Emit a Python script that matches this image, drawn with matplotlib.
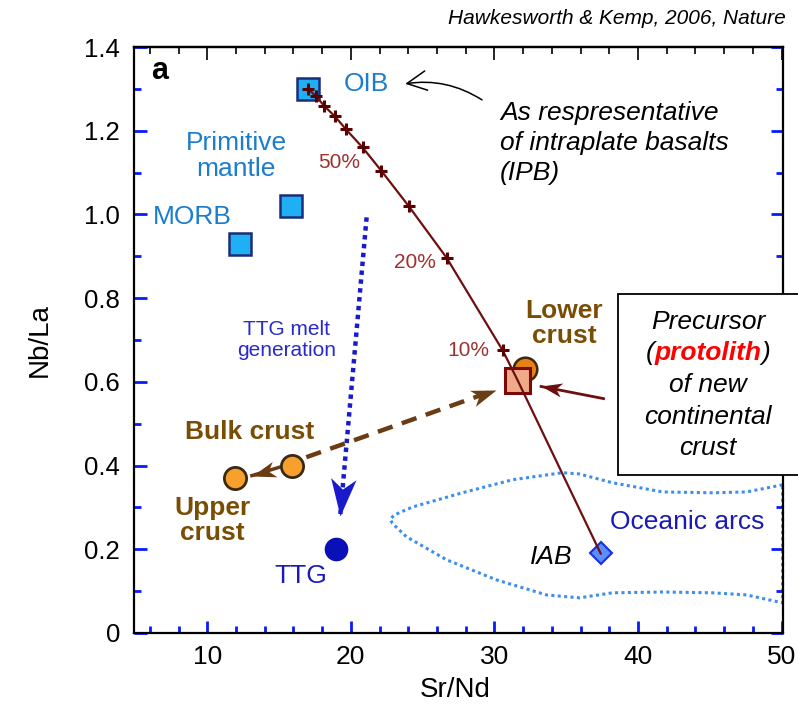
import numpy as np
import matplotlib
matplotlib.use('Agg')
import matplotlib.pyplot as plt
from matplotlib.markers import MarkerStyle
from matplotlib.path import Path
from matplotlib.transforms import Affine2D
from matplotlib.patches import Rectangle
from matplotlib.ticker import MultipleLocator

plt.rcParams['font.family'] = ['Liberation Sans', 'DejaVu Sans']

# mantle end-members (squares)
mantle_names = ['OIB', 'Primitive\nmantle', 'MORB']
mantle_x = [17.0, 15.8, 12.3]
mantle_y = [1.30, 1.02, 0.93]

# crust reservoirs (circles): bulk, upper, lower
crust_names = ['Bulk crust', 'Upper\ncrust', 'Lower\ncrust']
crust_x = [15.9, 11.9, 32.1]
crust_y = [0.40, 0.37, 0.63]

# protolith, TTG, IAB
protolith_x, protolith_y = 31.6, 0.605
ttg_x, ttg_y = 19.0, 0.20
iab_x, iab_y = 37.4, 0.19

# OIB - IAB mixing line, first 10 points carry tick marks
mix_x = [17.0, 17.57, 18.15, 18.90, 19.67, 20.82, 22.13, 24.03, 26.68, 30.58, 31.6, 34.7, 37.4]
mix_y = [1.30, 1.283, 1.259, 1.234, 1.203, 1.160, 1.104, 1.020, 0.896, 0.675, 0.605, 0.383, 0.19]
pct_labels = ['50%', '20%', '10%']
pct_x = [19.2, 24.5, 28.2]
pct_y = [1.124, 0.885, 0.675]

# oceanic arcs field outline
field_x = [50.07, 47.56, 45.19, 41.71, 38.22, 35.92, 34.74, 31.25, 27.77, 24.29, 23.03, 22.75,
           22.89, 23.87, 26.66, 30.14, 33.62, 35.92, 38.22, 41.71, 45.19, 47.56, 50.07, 50.07]
field_y = [0.354, 0.337, 0.335, 0.337, 0.359, 0.380, 0.383, 0.366, 0.335, 0.301, 0.282, 0.272,
           0.262, 0.230, 0.175, 0.127, 0.091, 0.084, 0.096, 0.098, 0.096, 0.091, 0.072, 0.354]

x_ticks = [10, 20, 30, 40, 50]
y_ticks = [0, 0.2, 0.4, 0.6, 0.8, 1.0, 1.2, 1.4]
y_labels = ['0', '0.2', '0.4', '0.6', '0.8', '1.0', '1.2', '1.4']

sq_face, sq_edge = '#1fb0f4', '#1a2d7a'
circ_face, circ_edge = '#f7a02e', '#3b2a12'
lbl_blue = '#1b7dcc'
brown = '#7a4d05'
arrow_brown = '#6b3c14'
maroon = '#6e0f0f'
dblue = '#1a1ab8'
tick_blue = '#0a1aff'

HEAD = Path([(0, 0), (-1, 0.34), (-0.72, 0), (-1, -0.34), (0, 0)],
            [Path.MOVETO, Path.LINETO, Path.LINETO, Path.LINETO, Path.CLOSEPOLY])


def arrow(ax, tail, tip, color, size, **kw):
    # line + concave arrow head rotated along the line
    ax.plot([tail[0], tip[0]], [tail[1], tip[1]], color=color, zorder=4, **kw)
    p0 = ax.transData.transform(tail)
    p1 = ax.transData.transform(tip)
    ang = np.degrees(np.arctan2(p1[1] - p0[1], p1[0] - p0[0]))
    m = MarkerStyle(HEAD, transform=Affine2D().rotate_deg(ang))
    ax.plot([tip[0]], [tip[1]], marker=m, ms=size, color=color, mew=0, zorder=4.5)


fig = plt.figure(figsize=(7.98, 7.08), dpi=100)
ax = fig.add_axes([134 / 798, 75 / 708, 649 / 798, 586 / 708])
ax.set_xlim(4.9, 50.1)
ax.set_ylim(0, 1.4)

# ticks
ax.set_xticks(x_ticks)
ax.set_xticklabels([str(v) for v in x_ticks], fontsize=19)
ax.xaxis.set_minor_locator(MultipleLocator(2))
ax.set_yticks(y_ticks)
ax.set_yticklabels(y_labels, fontsize=18.5)
ax.yaxis.set_minor_locator(MultipleLocator(0.1))
ax.tick_params(which='both', direction='in', color=tick_blue, width=2, top=False, right=True)
ax.tick_params(which='major', length=9)
ax.tick_params(which='minor', length=5)
ax.tick_params(axis='x', pad=9)
ax.tick_params(axis='y', pad=10)
for s in ax.spines.values():
    s.set_linewidth(1.6)
sec = ax.secondary_xaxis('top')
sec.set_xticks(x_ticks)
sec.xaxis.set_minor_locator(MultipleLocator(2))
sec.tick_params(which='both', direction='in', color='k', width=1.2, labeltop=False)
sec.tick_params(which='major', length=9)
sec.tick_params(which='minor', length=5)
sec.spines['top'].set_linewidth(1.6)

fig.text(455 / 798, 1 - 690 / 708, 'Sr/Nd', ha='center', va='center', fontsize=20)
fig.text(40 / 798, 1 - 340 / 708, 'Nb/La', ha='center', va='center', rotation=90, fontsize=20)

# oceanic arcs field
ax.plot(field_x, field_y, ls=(0, (1, 1.1)), color='#3d8ef0', lw=2.2, clip_on=False, zorder=1)

# TTG melt generation arrow
arrow(ax, (21.1, 0.993), (19.26, 0.28), '#1a1acc', 54, ls=(0, (1, 1)), lw=3.2)
# bulk crust from protolith
arrow(ax, (16.9, 0.42), (30.12, 0.581), arrow_brown, 36, ls=(0, (3.5, 2.2)), lw=3.2)
# bulk -> upper
arrow(ax, (15.6, 0.402), (13.11, 0.376), arrow_brown, 34, lw=2.5)
# box -> protolith
arrow(ax, (37.6, 0.560), (33.25, 0.589), maroon, 30, lw=2)

# points
ax.plot(mantle_x, mantle_y, 's', ms=16, mfc=sq_face, mec=sq_edge, mew=1.8, zorder=2)
ax.plot(crust_x[2], crust_y[2], 'o', ms=17, mfc='#e8801a', mec=circ_edge, mew=1.8, zorder=2.4)
ax.plot(protolith_x, protolith_y, 's', ms=18, mfc='#f0aa88', mec='#7a0a0a', mew=2.2, zorder=2.6)
ax.plot(iab_x, iab_y, 'D', ms=11, mfc='#5b8dfc', mec='#1a30e0', mew=1.5, zorder=2)
ax.plot(mix_x, mix_y, color=maroon, lw=1.6, zorder=3)
ax.plot(mix_x[:10], mix_y[:10], ls='none', marker='+', ms=9, mew=2.2, color='#5a0000', zorder=3.5)
ax.plot(crust_x[:2], crust_y[:2], 'o', ms=16, mfc=circ_face, mec=circ_edge, mew=2, zorder=5)
ax.plot(ttg_x, ttg_y, 'o', ms=16, color='#0a10b8', zorder=5)

# labels
ax.text(6.7, 1.342, 'a', fontsize=22, weight='bold', ha='center', va='center')
ax.text(21.08, 1.311, mantle_names[0], color=lbl_blue, fontsize=19, ha='center', va='center')
ax.text(12.0, 1.139, mantle_names[1], color=lbl_blue, fontsize=19, ha='center', va='center',
        linespacing=1.1)
ax.text(8.95, 0.993, mantle_names[2], color=lbl_blue, fontsize=19, ha='center', va='center')
for lab, x, y in zip(pct_labels, pct_x, pct_y):
    ax.text(x, y, lab, color='#a03030', fontsize=15, ha='center', va='center')
ax.text(15.5, 0.70, 'TTG melt\ngeneration', color='#2a2acc', fontsize=15, ha='center', va='center',
        linespacing=1.15)
ax.text(16.55, 0.136, 'TTG', color=dblue, fontsize=19, ha='center', va='center')
ax.text(12.93, 0.481, crust_names[0], color=brown, fontsize=19, weight='bold', ha='center', va='center')
ax.text(10.35, 0.268, crust_names[1], color=brown, fontsize=19, weight='bold', ha='center', va='center',
        linespacing=1.05)
ax.text(34.88, 0.739, crust_names[2], color=brown, fontsize=19, weight='bold', ha='center', va='center',
        linespacing=1.05)
ax.text(33.97, 0.182, 'IAB', style='italic', fontsize=19, ha='center', va='center')
ax.text(43.45, 0.266, 'Oceanic arcs', color=dblue, fontsize=19, ha='center', va='center')

# IPB note
ax.annotate('', xy=(23.6, 1.311), xytext=(29.3, 1.27),
            arrowprops=dict(arrowstyle='->,head_length=0.7,head_width=0.35', lw=1.1, color='k',
                            connectionstyle='arc3,rad=0.2', mutation_scale=20))
fig.text(500 / 798, 1 - 143 / 708, 'As respresentative\nof intraplate basalts\n(IPB)', style='italic',
         fontsize=19, ha='left', va='center', linespacing=1.3)

# title
fig.text(786 / 798, 1 - 18 / 708, 'Hawkesworth & Kemp, 2006, Nature', style='italic', fontsize=15,
         ha='right', va='center')

# protolith box
box = Rectangle((618 / 798, 1 - 475 / 708), 0.3, 181 / 708, transform=fig.transFigure,
                fc='white', ec='k', lw=1.3, clip_on=False, zorder=8)
ax.add_patch(box)
cx = 708 / 798
box_kw = dict(transform=fig.transFigure, style='italic', fontsize=19, ha='center', va='center',
              zorder=9, clip_on=False)
ax.text(cx, 1 - 322 / 708, 'Precursor', **box_kw)
ax.text(cx, 1 - 385 / 708, 'of new', **box_kw)
ax.text(cx, 1 - 417 / 708, 'continental', **box_kw)
ax.text(cx, 1 - 448 / 708, 'crust', **box_kw)
yb = 1 - 360 / 708
mid = ax.text(cx, yb, 'protolith', transform=fig.transFigure, style='italic', weight='bold',
              color='red', fontsize=19, ha='center', va='baseline', zorder=9, clip_on=False)
ax.annotate('(', xy=(0, yb), xycoords=(mid, 'figure fraction'), style='italic', fontsize=19,
            ha='right', va='baseline', zorder=9)
ax.annotate(')', xy=(1, yb), xycoords=(mid, 'figure fraction'), style='italic', fontsize=19,
            ha='left', va='baseline', zorder=9)

fig.savefig('out.png', dpi=100)
